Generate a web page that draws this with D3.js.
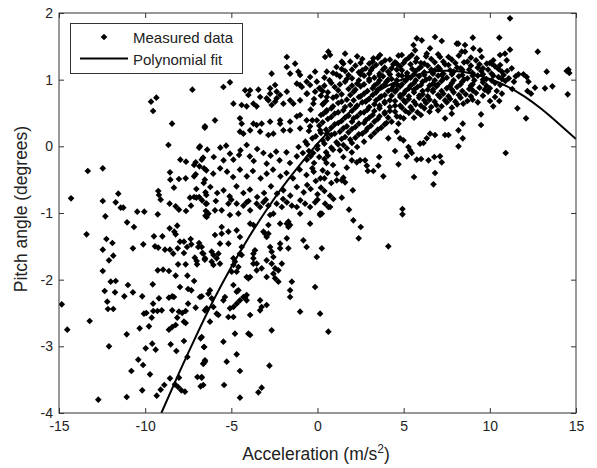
<!DOCTYPE html>
<html>
<head>
<meta charset="utf-8">
<script src="https://cdn.jsdelivr.net/npm/d3@7"></script>
<style>
  body { margin: 0; background: #fff; }
  text { font-family: "Liberation Sans", Arial, sans-serif; }
</style>
</head>
<body>
<div id="chart"></div>
<script>
// ticks
const xTicks = [-15, -10, -5, 0, 5, 10, 15];
const yTicks = [-4, -3, -2, -1, 0, 1, 2];

// measured points, [acceleration, pitch], read region by region
const leftUpper = [
  [-7.26,0.85],[-9.66,0.67],[-9.35,0.73],[-9.54,0.53],[-8.44,0.34],[-6.54,0.28],[-8.65,0.02],[-6.87,-0.02],
  [-13.33,-0.37],[-12.46,-0.33],[-14.30,-0.78],[-12.46,-0.82],[-11.56,-0.71],[-11.71,-0.84],[-11.42,-0.92],
  [-11.27,-0.92],[-12.31,-1.05],[-10.46,-0.98],[-10.05,-0.98],[-11.05,-1.14],[-10.65,-1.21],[-13.40,-1.32],
  [-12.25,-1.39],[-9.27,-1.02],[-9.24,-0.67],[-9.20,-0.73],[-9.10,-0.80],[-8.56,-0.39],[-8.54,-0.50],
  [-7.96,-0.20],[-7.63,-0.23],[-7.16,-0.28],[-7.07,-0.24],[-6.72,-0.20],[-6.64,-0.17],[-6.58,-0.33],
  [-8.33,-0.62],[-8.04,-0.49],[-7.65,-0.48],[-7.16,-0.45],[-7.07,-0.42],[-6.54,-0.50],[-8.58,-0.86],
  [-8.23,-0.90],[-8.04,-0.95],[-7.63,-0.97],[-7.40,-0.77],[-7.16,-0.76],[-7.03,-0.77],[-6.87,-0.76],
  [-7.34,-0.89],[-7.03,-0.64],[-6.50,-0.69],[-6.45,-0.73],[-6.48,-0.86],[-6.48,-0.97],[-6.50,-1.04],
  [-8.58,-1.23],[-8.14,-1.19],[-8.31,-1.28],[-8.23,-1.32],[-9.49,-1.35],[-9.00,-1.35],[-7.36,-1.39]
];

const leftLower = [
  [-14.84,-2.37],[-14.52,-2.75],[-13.22,-2.62],[-12.46,-1.55],[-12.10,-1.71],[-11.85,-1.64],[-11.90,-1.45],
  [-12.46,-1.87],[-12.00,-2.03],[-11.71,-2.02],[-12.35,-2.17],[-11.75,-2.19],[-12.20,-2.33],[-12.16,-2.44],
  [-11.85,-2.44],[-12.10,-3.00],[-12.72,-3.80],[-11.07,-2.82],[-11.07,-3.76],[-10.71,-1.53],[-10.11,-1.47],
  [-11.00,-2.08],[-10.71,-2.19],[-11.21,-2.25],[-10.17,-2.25],[-9.56,-2.07],[-9.43,-1.50],[-9.24,-1.52],
  [-9.27,-1.86],[-8.96,-1.85],[-8.85,-1.55],[-8.56,-1.55],[-8.37,-1.61],[-8.11,-1.53],[-7.98,-1.43],
  [-7.75,-1.43],[-7.75,-1.60],[-7.57,-1.51],[-7.32,-1.47],[-6.87,-1.45],[-6.92,-1.51],[-6.68,-1.60],
  [-7.12,-1.67],[-7.01,-1.72],[-6.99,-1.77],[-6.54,-1.70],[-8.62,-1.87],[-8.23,-1.94],[-8.09,-1.77],
  [-7.65,-1.77],[-7.55,-1.94],[-7.16,-2.02],[-7.98,-2.11],[-7.51,-2.14],[-7.32,-2.16],[-9.54,-2.36],
  [-9.20,-2.28],[-9.53,-2.47],[-9.29,-2.47],[-9.04,-2.46],[-9.93,-2.50],[-10.07,-2.51],[-9.62,-2.57],
  [-9.78,-2.70],[-10.32,-2.73],[-8.62,-2.27],[-8.43,-2.25],[-8.33,-2.26],[-8.43,-2.46],[-8.04,-2.48],
  [-7.85,-2.50],[-7.65,-2.47],[-7.51,-2.36],[-7.07,-2.42],[-6.53,-2.46],[-6.72,-2.25],[-8.14,-2.57],
  [-7.75,-2.63],[-7.65,-2.65],[-8.43,-2.71],[-8.23,-2.68],[-8.62,-2.75],[-6.78,-2.88],[-7.75,-2.92],
  [-9.59,-2.96],[-9.39,-3.05],[-9.97,-3.03],[-8.52,-2.97],[-8.19,-3.07],[-7.55,-3.16],[-6.58,-3.01],
  [-6.53,-3.23],[-6.62,-3.26],[-10.40,-3.20],[-10.12,-3.28],[-10.80,-3.37],[-9.72,-3.42],[-10.17,-3.66],
  [-8.56,-3.48],[-8.27,-3.57],[-8.04,-3.47],[-8.09,-3.61],[-7.90,-3.66],[-7.69,-3.68],[-8.89,-3.58],
  [-9.10,-3.65],[-9.33,-3.74],[-6.97,-3.46],[-6.72,-3.47],[-6.78,-3.60]
];

const midLower = [
  [-6.43,-0.86],[-6.33,-1.01],[-6.43,-1.06],[-5.95,-0.96],[-5.56,-0.96],[-5.17,-0.86],[-5.08,-1.03],
  [-4.69,-0.86],[-4.59,-1.01],[-4.30,-0.89],[-4.11,-0.84],[-3.91,-0.96],[-3.53,-0.86],[-3.33,-0.91],
  [-3.14,-0.84],[-2.85,-0.89],[-2.75,-1.03],[-2.56,-1.01],[-2.37,-0.86],[-2.07,-0.91],[-1.78,-0.84],
  [-1.49,-0.89],[-1.20,-0.91],[-1.01,-1.01],[-0.72,-0.86],[-0.43,-0.91],[-0.14,-0.84],[0.15,-1.01],
  [0.44,-0.86],[0.63,-0.91],
  [-5.56,-1.21],[-5.95,-1.33],[-5.56,-1.31],[-5.17,-1.28],[-4.69,-1.26],[-3.91,-1.16],[-3.72,-1.18],
  [-3.14,-1.28],[-2.85,-1.31],[-2.85,-1.18],[-2.17,-1.16],[-1.78,-1.16],[-1.69,-1.21],[-0.43,-1.16],
  [0.15,-1.03],[0.25,-1.01],
  [-6.72,-1.51],[-6.63,-1.61],[-6.14,-1.58],[-6.04,-1.63],[-5.85,-1.68],[-5.75,-1.61],[-5.66,-1.46],
  [-5.17,-1.46],[-5.66,-1.76],[-6.04,-1.78],[-6.53,-1.68],[-6.14,-1.73],
  [-4.50,-1.36],[-4.40,-1.51],[-4.50,-1.61],[-4.40,-1.63],[-4.88,-1.68],[-4.79,-1.73],[-4.59,-1.81],
  [-4.69,-1.88],[-4.98,-1.88],[-4.88,-1.78],
  [-3.72,-1.61],[-3.63,-1.56],[-3.72,-1.68],[-3.53,-1.76],[-3.24,-1.83],[-3.53,-1.86],[-2.95,-1.71],
  [-2.66,-1.58],[-2.56,-1.66],[-2.66,-1.76],[-2.46,-1.83],[-2.27,-1.86],[-2.56,-1.91],[-2.46,-1.98],
  [-2.07,-1.76],[-2.95,-1.96],[-2.27,-2.03],[-4.11,-1.96],[-4.01,-1.98],[-3.91,-1.96],[-3.72,-1.76],
  [-3.04,-1.31],[-2.95,-1.36],[-2.75,-1.51],[-2.17,-1.46],[-1.78,-1.38],[-1.69,-1.53],[-2.17,-1.53],
  [-1.59,-1.18],[-1.69,-1.13],[-0.82,-1.41],[-0.63,-1.51],[-0.04,-1.66],[0.25,-1.53],
  [-1.49,-2.03],[-1.59,-2.16],[-1.59,-2.26],[-0.14,-2.11],[-1.01,-2.48],[0.15,-2.51],[0.63,-2.78],
  [-6.82,-2.26],[-6.33,-2.21],[-6.24,-2.16],[-6.14,-2.28],[-6.43,-2.43],[-6.04,-2.41],[-5.46,-2.31],
  [-5.37,-2.26],[-5.08,-2.43],[-4.88,-2.41],[-4.69,-2.36],[-4.50,-2.31],[-4.30,-2.26],[-4.11,-2.31],
  [-3.33,-2.31],[-3.24,-2.41],[-2.95,-2.38],[-3.33,-2.46],[-3.91,-2.53],[-4.88,-2.56],[-5.17,-2.56],
  [-5.85,-2.51],[-5.75,-2.53],[-6.24,-2.63],
  [-4.88,-2.08],[-4.69,-2.18],[-4.59,-2.16],[-4.20,-2.26],[-4.11,-2.23],
  [-4.79,-2.81],[-4.01,-2.81],[-3.91,-2.83],[-2.66,-2.76],[-5.46,-2.93],[-4.69,-3.12],[-5.27,-3.23],
  [-6.53,-3.21],[-6.63,-3.26],[-6.72,-2.86],[-6.58,-3.01],[-6.72,-3.46],[-6.63,-3.58],[-5.42,-3.58],
  [-4.50,-3.37],[-2.79,-3.29],[-3.24,-3.62],[-3.43,-3.69],[-4.50,-3.77]
];

const midUpper = [
  [-1.78,1.34],[-1.30,1.24],[-1.78,1.19],[-1.59,1.09],[-1.11,1.12],[-1.01,1.07],[-2.66,1.09],[-0.63,0.97],
  [-0.43,1.04],[-0.14,1.12],[-0.04,0.97],[0.54,1.12],[0.63,1.42],[0.44,1.34],[-1.20,0.94],[-1.01,0.92],
  [-0.91,0.89],[-0.43,0.92],
  [-5.46,0.89],[-5.08,0.96],[-4.20,0.84],[-3.91,0.84],[-4.01,0.77],[-3.43,0.85],[-3.33,0.74],[-3.72,0.64],
  [-3.53,0.60],[-2.75,0.87],[-2.46,0.92],[-2.37,0.82],[-2.75,0.79],[-2.85,0.69],[-2.46,0.67],[-2.37,0.72],
  [-2.17,0.77],[-1.78,0.82],[-1.98,0.64],[-1.59,0.69],[-1.40,0.64],[-1.01,0.69],[-0.63,0.79],[-0.14,0.82],
  [0.15,0.87],[0.54,0.74],[0.34,0.64],[-0.24,0.64],[-4.88,0.64],[-4.40,0.62],[-4.11,0.60],[-2.95,0.72],
  [-2.66,0.62],
  [-5.95,0.39],[-6.53,0.30],[-4.50,0.42],[-4.40,0.34],[-3.72,0.34],[-3.53,0.32],[-3.24,0.34],[-2.75,0.37],
  [-2.17,0.39],[-2.17,0.34],[-1.59,0.37],[-1.20,0.45],[-1.01,0.47],[-0.63,0.39],[-0.04,0.39],[0.34,0.49],
  [0.54,0.54],[-4.50,0.22],[-4.30,0.19],[-3.91,0.24],[-3.33,0.22],[-2.85,0.17],[-2.56,0.19],[-1.98,0.24],
  [-1.59,0.24],[-1.01,0.27],[-0.43,0.30],[0.15,0.24],[0.54,0.19],
  [-6.82,0.00],[-6.40,-0.05],[-6.02,-0.16],[-5.64,-0.02],[-5.30,0.01],[-5.08,-0.11],[-5.45,-0.21],
  [-4.47,-0.06],[-4.55,-0.13],[-4.88,-0.20],[-4.11,0.02],[-3.93,-0.15],[-3.50,-0.04],[-3.70,-0.22],
  [-3.14,-0.10],[-2.72,-0.14],[-2.95,-0.26],[-2.40,-0.08],[-2.20,-0.21],[-1.80,-0.09],[-1.60,-0.25],
  [-1.20,-0.15],[-0.85,-0.10],[-0.62,-0.20],[-0.25,-0.10],[0.10,-0.16],[0.52,-0.25],
  [-6.85,-0.30],[-6.45,-0.36],[-6.05,-0.41],[-5.65,-0.33],[-5.25,-0.38],[-4.90,-0.46],[-4.50,-0.35],
  [-4.10,-0.45],[-3.75,-0.37],[-3.30,-0.48],[-2.95,-0.41],[-2.58,-0.35],[-2.15,-0.45],[-1.80,-0.40],
  [-1.42,-0.48],[-1.03,-0.35],[-0.64,-0.43],[-0.22,-0.38],[0.17,-0.48],[0.58,-0.40],
  [-6.60,-0.55],[-6.22,-0.61],[-5.82,-0.70],[-5.45,-0.66],[-5.10,-0.75],[-4.70,-0.60],[-4.30,-0.70],
  [-3.92,-0.65],[-3.50,-0.76],[-3.10,-0.70],[-2.70,-0.60],[-2.35,-0.71],[-1.98,-0.66],[-1.58,-0.74],
  [-1.20,-0.61],[-0.80,-0.69],[-0.40,-0.64],[0.00,-0.72],[0.40,-0.67],
  [-6.70,-0.81],[-5.90,-0.82],[-5.00,-0.80],[-4.00,-0.82],[-3.00,-0.80],[-2.00,-0.79],[-1.00,-0.81],[0.00,-0.80]
];

const rightSparse = [
  [5.76,1.62],[6.05,1.59],[6.82,1.64],[7.21,1.58],[8.08,1.54],[5.57,1.52],[5.66,1.44],[6.53,1.47],
  [6.34,1.39],[5.47,1.37],[5.76,1.32],[7.11,1.34],[4.60,1.24],[4.89,1.37],[1.60,1.39],[1.41,1.27],
  [0.73,1.37],[3.24,1.32],[3.63,1.37],[3.92,1.29],
  [3.82,-0.45],[3.58,-0.16],[3.53,-0.29],[3.24,-0.37],[2.92,-0.37],[2.86,-0.29],[2.76,-0.21],[2.47,-0.21],
  [1.99,-0.21],[1.99,-0.09],[1.70,-0.32],[1.12,-0.41],[1.12,-0.51],[1.41,-0.51],[1.60,-0.54],[2.05,-0.66],
  [1.41,-0.77],[0.92,-0.79],[0.73,-0.74],[0.73,-0.91],[1.83,-0.95],[2.08,-1.11],[2.51,-1.21],[2.39,-1.38],
  [4.93,-0.94],[4.93,-1.02],[4.11,-1.50],[4.70,-0.27],[4.50,-0.07],[4.99,0.09],[5.28,-0.01],[5.37,-0.06],
  [5.47,-0.10],[5.18,-0.15],[5.76,-0.20],[6.01,-0.19],[6.44,-0.21],[6.78,-0.16],[7.11,-0.15],[7.21,-0.24],
  [6.82,-0.40],[6.73,-0.57],[5.60,-0.46],[5.95,0.04],[6.15,0.05],[8.18,0.00],[10.92,-0.10],
  [4.60,0.22],[4.11,0.12],[4.79,0.12],[6.34,0.12],[6.53,0.19],[6.82,0.17],[7.40,0.17],[7.60,0.17],
  [8.18,0.24],[2.28,-0.24],[1.50,-0.47],
  [11.17,1.92],[10.55,1.63],[9.01,1.63],[12.78,1.42],[13.30,1.12],[14.46,1.13],[14.61,1.10],[14.56,1.15],
  [13.63,0.90],[13.20,0.87],[14.52,0.78],[12.62,0.88],[12.24,0.97],[12.14,1.04],[11.95,1.08],[11.66,1.08],
  [12.18,0.83],[12.39,0.79],[11.60,0.57],[12.10,0.42],[10.55,0.68],[10.01,0.68],[10.20,0.60],[9.49,0.48],
  [9.49,0.32],[8.43,0.34],[8.43,0.12],[8.46,0.64],[7.79,0.49],[7.40,0.42],
  [8.17,1.54],[8.56,1.52],[8.37,1.42],[8.56,1.42],[9.04,1.47],[9.43,1.44],[9.53,1.34],[10.59,1.37],
  [10.88,1.39],[11.17,1.45],[10.98,1.29],[11.27,1.17],[10.20,1.29],[10.11,1.24],[9.82,1.24]
];

const rightCore = [
  [1.9,1.27],[2.6,1.31],[3.0,1.24],[4.2,1.30],[4.5,1.26],[5.1,1.29],[6.0,1.25],[6.6,1.31],[7.3,1.27],[7.8,1.30],[8.5,1.26],[9.2,1.29],
  [1.1,1.19],[2.2,1.21],[2.8,1.17],[3.4,1.22],[3.9,1.18],[4.8,1.20],[5.4,1.23],[5.9,1.17],[6.4,1.21],[7.0,1.19],[7.6,1.22],[8.1,1.18],[8.9,1.21],[9.6,1.17],[10.3,1.20],
  [0.9,1.10],[1.6,1.13],[2.4,1.11],[3.1,1.14],[3.6,1.09],[4.1,1.12],[4.6,1.15],[5.2,1.10],[5.7,1.13],[6.2,1.11],[6.8,1.14],[7.3,1.09],[7.9,1.12],[8.4,1.15],[9.0,1.10],[9.5,1.13],[10.1,1.09],[10.7,1.12],
  [0.4,1.03],[1.3,1.05],[2.0,1.02],[2.7,1.06],[3.3,1.03],[3.8,1.05],[4.3,1.01],[4.9,1.06],[5.4,1.03],[5.9,1.05],[6.5,1.02],[7.0,1.06],[7.5,1.03],[8.2,1.05],[8.7,1.02],[9.3,1.06],[9.8,1.01],[10.5,1.04],[11.1,1.02],
  [0.8,0.95],[1.6,0.97],[2.3,0.94],[3.0,0.98],[3.5,0.95],[4.0,0.97],[4.6,0.93],[5.1,0.98],[5.6,0.95],[6.1,0.97],[6.7,0.94],[7.2,0.98],[7.8,0.95],[8.4,0.97],[9.0,0.93],[9.6,0.96],[10.3,0.95],[10.9,0.98],
  [0.1,0.87],[1.0,0.89],[1.8,0.86],[2.5,0.90],[3.2,0.87],[3.7,0.89],[4.3,0.86],[4.8,0.90],[5.3,0.87],[5.8,0.89],[6.4,0.85],[6.9,0.90],[7.5,0.87],[8.1,0.89],[8.8,0.86],[9.4,0.88],[10.0,0.87],[11.3,0.86],
  [-0.6,0.79],[0.6,0.81],[1.4,0.78],[2.1,0.82],[2.7,0.79],[3.4,0.81],[3.9,0.77],[4.5,0.82],[5.0,0.79],[5.6,0.81],[6.1,0.78],[6.7,0.82],[7.3,0.79],[7.9,0.81],[8.6,0.78],[9.2,0.80],[9.9,0.82],[10.7,0.79],
  [-0.2,0.71],[0.9,0.73],[1.7,0.70],[2.4,0.74],[3.0,0.71],[3.6,0.73],[4.2,0.69],[4.8,0.74],[5.3,0.71],[5.9,0.73],[6.5,0.70],[7.1,0.74],[7.7,0.71],[8.3,0.73],[9.0,0.70],
  [0.3,0.63],[1.2,0.65],[1.9,0.62],[2.6,0.66],[3.3,0.63],[3.9,0.65],[4.5,0.61],[5.1,0.66],[5.7,0.63],[6.3,0.65],[6.9,0.62],[7.5,0.66],[8.1,0.63],
  [-0.4,0.55],[0.8,0.57],[1.5,0.54],[2.2,0.58],[2.9,0.55],[3.6,0.57],[4.2,0.53],[4.9,0.58],[5.5,0.55],[6.2,0.57],[7.0,0.54],
  [0.2,0.47],[1.0,0.49],[1.8,0.46],[2.5,0.50],[3.2,0.47],[3.9,0.49],[4.6,0.45],[5.3,0.50],[6.0,0.47],
  [-0.3,0.39],[0.6,0.41],[1.4,0.38],[2.1,0.42],[2.8,0.39],[3.5,0.41],[4.3,0.37],[5.0,0.42],
  [0.1,0.31],[1.0,0.33],[1.7,0.30],[2.4,0.34],[3.1,0.31],[3.9,0.33],
  [-0.5,0.23],[0.5,0.25],[1.3,0.22],[2.0,0.26],[2.8,0.23],[3.5,0.25],
  [-0.1,0.15],[0.8,0.17],[1.6,0.14],[2.4,0.18],[3.1,0.15],
  [-0.7,0.07],[0.3,0.09],[1.1,0.06],[1.9,0.10],[2.7,0.07],
  [-1.1,-0.01],[0.0,0.01],[0.8,-0.02],[1.5,0.02],[2.3,-0.01],
  [-0.5,-0.07],[0.5,-0.09],[1.3,-0.06],
  [-0.2,-0.25],[0.4,-0.19],[0.9,-0.28],
  [-0.3,-0.33],[0.3,-0.36],[0.8,-0.55],
  [-0.1,-0.52],[0.4,-0.48],[-0.6,-0.58],[0.2,-0.62]
];

// the solid black mass, filled in between the rows above
const rightCoreFill = [
  [2.3,1.35],[3.5,1.33],[4.7,1.36],[5.3,1.33],[6.3,1.35],[7.0,1.38],[7.6,1.34],[8.2,1.36],[8.9,1.33],
  [1.5,1.24],[2.5,1.25],[3.2,1.27],[3.7,1.25],[4.4,1.23],[5.0,1.25],[5.7,1.27],[6.2,1.24],[6.8,1.26],[7.4,1.23],[8.0,1.25],[8.7,1.27],[9.4,1.23],[10.0,1.25],[10.6,1.22],
  [1.4,1.16],[2.0,1.15],[2.6,1.14],[3.2,1.18],[3.8,1.15],[4.3,1.17],[4.9,1.14],[5.5,1.16],[6.0,1.19],[6.6,1.15],[7.1,1.16],[7.7,1.14],[8.3,1.17],[8.8,1.15],[9.3,1.18],[9.9,1.15],[10.5,1.16],[11.0,1.13],
  [1.1,1.08],[1.8,1.07],[2.5,1.08],[3.0,1.09],[3.6,1.06],[4.2,1.08],[4.7,1.07],[5.2,1.06],[5.6,1.08],[6.2,1.07],[6.7,1.09],[7.2,1.07],[7.8,1.08],[8.4,1.07],[9.0,1.06],[9.6,1.08],[10.2,1.06],[10.8,1.07],[11.5,1.05],
  [0.7,0.99],[1.7,1.01],[2.4,0.99],[3.0,1.01],[3.6,0.99],[4.1,1.00],[4.6,0.99],[5.2,1.01],[5.7,0.99],[6.3,1.00],[6.8,0.99],[7.3,1.01],[7.9,0.99],[8.5,1.00],[9.1,0.99],[9.6,1.00],[10.1,0.99],[10.7,1.01],[11.4,0.97],
  [0.4,0.91],[1.3,0.93],[2.0,0.91],[2.7,0.93],[3.3,0.91],[3.9,0.93],[4.4,0.91],[4.9,0.93],[5.4,0.91],[6.0,0.92],[6.5,0.91],[7.0,0.93],[7.7,0.91],[8.3,0.93],[8.9,0.91],[9.8,0.91],[10.6,0.92],
  [0.3,0.83],[1.2,0.84],[2.2,0.85],[2.9,0.83],[3.5,0.85],[4.1,0.83],[4.6,0.85],[5.1,0.83],[5.6,0.85],[6.1,0.83],[6.7,0.85],[7.2,0.83],[7.8,0.85],[8.4,0.83],[9.0,0.84],[9.7,0.85],[10.4,0.83],
  [0.2,0.76],[1.1,0.75],[1.9,0.77],[2.5,0.75],[3.2,0.77],[3.7,0.75],[4.3,0.76],[4.8,0.77],[5.3,0.75],[5.9,0.76],[6.4,0.75],[7.0,0.77],[7.6,0.75],[8.2,0.77],[8.9,0.75],[9.6,0.76],[10.3,0.74],
  [0.5,0.68],[1.4,0.67],[2.1,0.69],[2.8,0.67],[3.4,0.69],[3.9,0.67],[4.5,0.68],[5.0,0.69],[5.6,0.67],[6.2,0.69],[6.8,0.67],[7.4,0.69],[8.0,0.67],[8.7,0.68],[9.3,0.66],
  [0.9,0.60],[1.6,0.59],[2.3,0.61],[3.0,0.59],[3.6,0.61],[4.2,0.59],[4.8,0.61],[5.4,0.59],[6.0,0.61],[6.6,0.59],[7.2,0.60],[7.8,0.58],
  [0.5,0.52],[1.2,0.51],[2.0,0.53],[2.7,0.51],[3.3,0.53],[3.9,0.51],[4.5,0.52],[5.1,0.53],[5.8,0.51],[6.5,0.52],
  [0.8,0.44],[1.6,0.43],[2.3,0.45],[3.0,0.43],[3.6,0.45],[4.1,0.43],[4.8,0.44],[5.6,0.43],
  [0.3,0.36],[1.2,0.35],[2.0,0.37],[2.7,0.35],[3.3,0.37],[4.0,0.35],[4.7,0.34],
  [0.8,0.28],[1.5,0.27],[2.2,0.29],[2.9,0.27],[3.7,0.28],
  [0.2,0.20],[1.0,0.19],[1.8,0.21],[2.6,0.19],[3.3,0.20],
  [0.6,0.12],[1.4,0.11],[2.2,0.13],[-0.3,0.12],
  [0.4,0.04],[1.2,0.03],[2.0,0.05],[-0.6,0.03],
  [0.0,-0.04],[0.9,-0.05],[1.7,-0.03],
  [-0.4,-0.15],[0.6,-0.14],[1.5,-0.16]
];

// polynomial fit
const fitAccel = [-9.06, -8, -7, -6, -5, -4, -3, -2, -1, 0, 1, 2, 3, 4, 5, 6, 7, 8, 9, 10, 11, 12, 13, 14, 15];
const fitPitch = [-4.0, -3.38, -2.82, -2.29, -1.81, -1.37, -0.97, -0.60, -0.27, 0.04, 0.31, 0.54, 0.74, 0.90, 1.01, 1.09, 1.13, 1.13, 1.09, 1.01, 0.90, 0.75, 0.56, 0.34, 0.11];

const measured = [].concat(leftUpper, leftLower, midLower, midUpper, rightSparse, rightCore, rightCoreFill);
const fit = fitAccel.map((a, i) => [a, fitPitch[i]]);

const width = 597, height = 468;
const plotL = 59, plotR = 576, plotT = 13, plotB = 413;

const svg = d3.select("#chart").append("svg")
    .attr("width", width)
    .attr("height", height);

const x = d3.scaleLinear().domain([-15, 15]).range([plotL, plotR]);
const y = d3.scaleLinear().domain([-4, 2]).range([plotB, plotT]);

svg.append("clipPath").attr("id", "plotclip")
  .append("rect")
    .attr("x", plotL).attr("y", plotT)
    .attr("width", plotR - plotL).attr("height", plotB - plotT);

// markers: small diamonds like matlab's dots
const diamond = d3.symbol().type(d3.symbolSquare).size(22);

svg.append("g")
    .attr("clip-path", "url(#plotclip)")
  .selectAll("path")
  .data(measured)
  .enter()
  .append("path")
    .attr("d", diamond)
    .attr("transform", d => `translate(${x(d[0])},${y(d[1])}) rotate(45)`)
    .attr("fill", "#000");

svg.append("path")
    .datum(fit)
    .attr("clip-path", "url(#plotclip)")
    .attr("fill", "none")
    .attr("stroke", "#000")
    .attr("stroke-width", 2)
    .attr("d", d3.line().x(d => x(d[0])).y(d => y(d[1])).curve(d3.curveNatural));

// axes, ticks point inward on all four sides
const fmt = d => String(d);
const axisStyle = g => {
  g.select(".domain").remove();
  g.selectAll("line").attr("stroke", "#333");
  g.selectAll("text").attr("fill", "#222").style("font-size", "14px")
    .style("font-family", "'Liberation Sans', Arial, sans-serif");
};

svg.append("g").attr("transform", `translate(0,${plotB})`)
  .call(d3.axisBottom(x).tickValues(xTicks).tickFormat(fmt).tickSizeInner(-5).tickSizeOuter(0).tickPadding(8))
  .call(axisStyle);
svg.append("g").attr("transform", `translate(0,${plotT})`)
  .call(d3.axisTop(x).tickValues(xTicks).tickFormat("").tickSizeInner(-5).tickSizeOuter(0))
  .call(axisStyle);
svg.append("g").attr("transform", `translate(${plotL},0)`)
  .call(d3.axisLeft(y).tickValues(yTicks).tickFormat(fmt).tickSizeInner(-5).tickSizeOuter(0).tickPadding(6))
  .call(axisStyle);
svg.append("g").attr("transform", `translate(${plotR},0)`)
  .call(d3.axisRight(y).tickValues(yTicks).tickFormat("").tickSizeInner(-5).tickSizeOuter(0))
  .call(axisStyle);

svg.append("rect")
    .attr("x", plotL).attr("y", plotT)
    .attr("width", plotR - plotL).attr("height", plotB - plotT)
    .attr("fill", "none")
    .attr("stroke", "#333");

// axis labels
const xLabel = svg.append("text")
    .attr("x", 316).attr("y", 460)
    .attr("text-anchor", "middle")
    .attr("fill", "#222")
    .style("font-size", "17.5px");
xLabel.append("tspan").text("Acceleration (m/s");
xLabel.append("tspan").attr("dy", -7).style("font-size", "12px").text("2");
xLabel.append("tspan").attr("dy", 7).text(")");

svg.append("text")
    .attr("transform", "translate(27,209) rotate(-90)")
    .attr("text-anchor", "middle")
    .attr("fill", "#222")
    .style("font-size", "17.5px")
    .text("Pitch angle (degrees)");

// legend
const legend = svg.append("g");
legend.append("rect")
    .attr("x", 70.5).attr("y", 23.5)
    .attr("width", 172).attr("height", 50)
    .attr("fill", "#fff")
    .attr("stroke", "#333");
legend.append("path")
    .attr("d", diamond)
    .attr("transform", "translate(104,37) rotate(45)")
    .attr("fill", "#000");
legend.append("line")
    .attr("x1", 80).attr("x2", 128)
    .attr("y1", 58.5).attr("y2", 58.5)
    .attr("stroke", "#000").attr("stroke-width", 2);
legend.append("text").attr("x", 133).attr("y", 43)
    .attr("fill", "#222").style("font-size", "15px").text("Measured data");
legend.append("text").attr("x", 133).attr("y", 65)
    .attr("fill", "#222").style("font-size", "15px").text("Polynomial fit");
</script>
</body>
</html>
